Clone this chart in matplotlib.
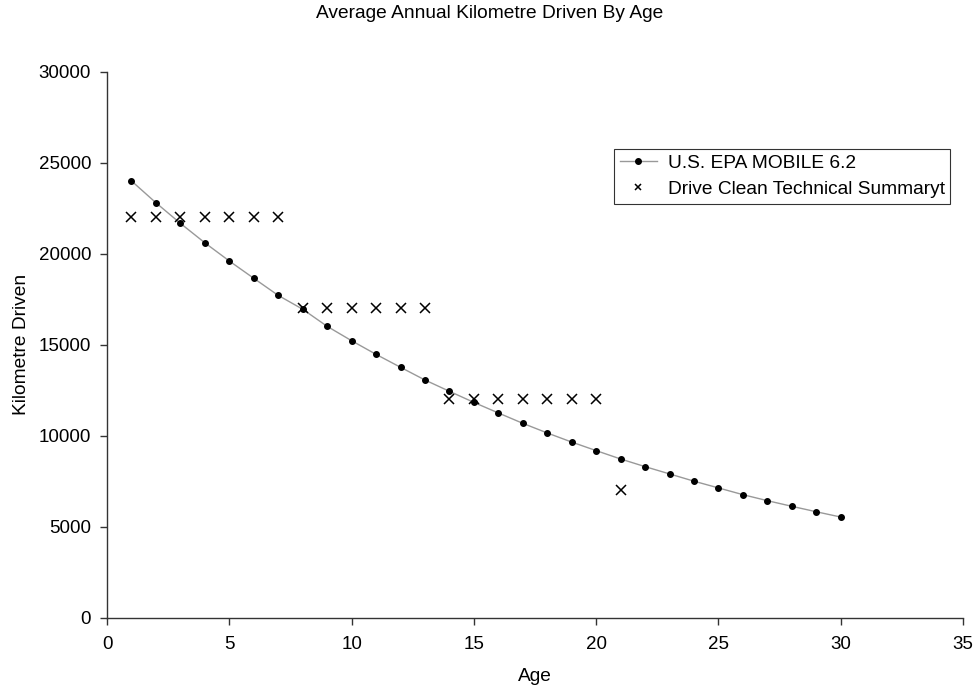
import matplotlib
matplotlib.use("Agg")
import matplotlib.pyplot as plt

plt.rcParams["font.family"] = ["Liberation Sans", "DejaVu Sans"]

# U.S. EPA MOBILE 6.2
ages_mobile = list(range(1, 31))
km_mobile = [24000, 22800, 21670, 20600, 19600, 18650, 17710, 16950, 16010, 15220,
             14470, 13760, 13060, 12440, 11830, 11250, 10680, 10150, 9650, 9180,
             8720, 8300, 7900, 7500, 7130, 6760, 6430, 6120, 5820, 5530]

# Drive Clean Technical Summary
ages_dc = list(range(1, 22))
km_dc = [22000] * 7 + [17000] * 6 + [12000] * 7 + [7000]

fig = plt.figure(figsize=(9.79, 6.91), dpi=100)
ax = fig.add_axes([0.1093, 0.1061, 0.8744, 0.7901])

ax.plot(ages_mobile, km_mobile, color="#999999", lw=1.0, marker="o",
        markersize=4.0, markerfacecolor="black", markeredgecolor="black",
        label="U.S. EPA MOBILE 6.2", zorder=2)
ax.plot(ages_dc, km_dc, ls="none", marker="x", markersize=6.5, mew=1.1,
        color="black", label="Drive Clean Technical Summaryt", zorder=3)

ax.set_xlim(0, 35)
ax.set_ylim(0, 30000)
ax.set_xticks(range(0, 36, 5))
ax.set_yticks(range(0, 30001, 5000))
for s in ("top", "right"):
    ax.spines[s].set_visible(False)
for s in ("left", "bottom"):
    ax.spines[s].set_color("#333333")
    ax.spines[s].set_linewidth(1.0)
ax.tick_params(direction="out", length=5, width=1.0, color="#333333",
               labelsize=13.5)
ax.tick_params(axis="x", pad=8.5)
ax.tick_params(axis="y", pad=6.5)

ax.set_xlabel("Age", fontsize=13.8, va="center")
ax.xaxis.set_label_coords(0.5, -0.108)
ax.set_ylabel("Kilometre Driven", fontsize=13.8, va="center")
ax.yaxis.set_label_coords(-0.1, 0.5)
fig.text(0.5, 1 - 13 / 691, "Average Annual Kilometre Driven By Age",
         fontsize=13.8, ha="center", va="center")

leg = ax.legend(loc="upper left", bbox_to_anchor=(614 / 979, 1 - 149 / 691),
                bbox_transform=fig.transFigure, fontsize=13.8,
                frameon=True, fancybox=False, edgecolor="black",
                borderpad=0.3, borderaxespad=0, handlelength=1.95,
                handletextpad=0.55, labelspacing=0.45)
leg.get_frame().set_linewidth(0.8)
leg.legend_handles[1].set_markersize(5)

fig.savefig("out.png", dpi=100)
